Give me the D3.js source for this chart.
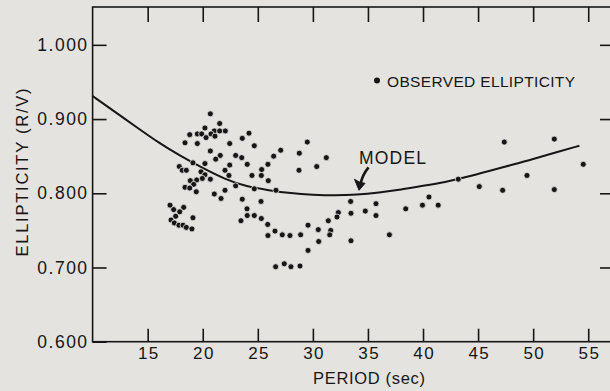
<!DOCTYPE html>
<html>
<head>
<meta charset="utf-8">
<script src="https://cdn.jsdelivr.net/npm/d3@7"></script>
<style>
  body { margin: 0; background: #e4e3df; }
  svg { display: block; }
  text { font-family: "Liberation Sans", Arial, sans-serif; fill: #161616; }
</style>
</head>
<body>
<div id="chart"></div>
<script>
// ellipticity vs period
var obsPeriod = [20.69, 21.54, 20.20, 21.05, 21.54, 22.05, 18.82, 19.51, 19.90, 20.75,
  20.30, 21.11, 18.39, 19.51, 22.45, 24.20, 23.59, 24.68, 20.69, 21.59,
  21.18, 22.99, 23.54, 27.08, 26.44, 28.77, 19.11, 20.20, 22.45, 24.04,
  25.92, 17.87, 18.14, 18.51, 19.84, 22.02, 25.35, 28.74, 22.38, 24.47,
  25.32, 20.20, 19.96, 19.45, 20.69, 18.87, 19.18, 25.95, 18.39, 18.82,
  19.41, 22.99, 24.68, 26.65, 21.05, 22.02, 21.66, 23.59, 25.29, 17.03,
  17.36, 18.27, 17.91, 24.02, 17.54, 19.11, 17.12, 17.42, 17.84, 18.21,
  18.51, 19.02, 24.04, 24.68, 25.32, 23.47, 25.90, 25.92, 26.56, 27.22,
  27.92, 28.89, 26.62, 27.40, 28.01, 28.83, 29.49, 31.22, 30.35, 33.43,
  35.73, 32.31, 32.19, 33.46, 34.76, 35.73, 31.40, 29.56, 30.49, 31.62,
  31.53, 30.53, 33.46, 36.95, 29.56, 38.43, 39.95, 40.54, 41.38, 43.20,
  45.11, 47.38, 47.23, 49.44, 51.92, 51.92, 54.55];
var obsEllipticity = [0.907, 0.894, 0.888, 0.884, 0.884, 0.884, 0.879, 0.880, 0.880, 0.880,
  0.875, 0.877, 0.868, 0.867, 0.867, 0.881, 0.874, 0.864, 0.857, 0.851,
  0.846, 0.851, 0.848, 0.858, 0.850, 0.854, 0.841, 0.840, 0.838, 0.839,
  0.839, 0.836, 0.831, 0.831, 0.829, 0.831, 0.832, 0.831, 0.824, 0.824,
  0.824, 0.825, 0.820, 0.818, 0.819, 0.817, 0.812, 0.817, 0.808, 0.807,
  0.802, 0.810, 0.806, 0.804, 0.799, 0.804, 0.793, 0.792, 0.789, 0.784,
  0.778, 0.781, 0.775, 0.779, 0.769, 0.767, 0.764, 0.760, 0.757, 0.757,
  0.754, 0.752, 0.770, 0.770, 0.766, 0.763, 0.758, 0.743, 0.749, 0.744,
  0.743, 0.744, 0.701, 0.705, 0.701, 0.702, 0.869, 0.848, 0.836, 0.789,
  0.786, 0.774, 0.768, 0.773, 0.776, 0.770, 0.763, 0.757, 0.751, 0.750,
  0.744, 0.735, 0.736, 0.744, 0.723, 0.779, 0.784, 0.795, 0.784, 0.819,
  0.809, 0.869, 0.804, 0.824, 0.873, 0.805, 0.839];

// model curve
var modelPeriod = [10, 12, 14, 16, 18, 20, 22, 24, 26, 28, 30, 32, 34, 36, 38, 40, 42, 44, 46, 48, 50, 52, 54.2];
var modelEllipticity = [0.931, 0.910, 0.889, 0.868, 0.850, 0.834, 0.819, 0.809, 0.804, 0.800, 0.798, 0.797,
  0.798, 0.801, 0.805, 0.810, 0.815, 0.822, 0.830, 0.838, 0.846, 0.855, 0.864];

var xTicks = [15, 20, 25, 30, 35, 40, 45, 50, 55];
var yTicks = [0.6, 0.7, 0.8, 0.9, 1.0];

var width = 610, height = 391;
// note: "top" is taken by window.top, so plot edges get their own names
var plotLeft = 92.6, plotTop = 7, plotRight = 613, plotBottom = 341.7;
var ink = "#161616", paper = "#e4e3df";

var svg = d3.select("#chart").append("svg")
  .attr("width", width)
  .attr("height", height);

var x = d3.scaleLinear().domain([10, 57.25]).range([plotLeft, plotRight]);
var y = d3.scaleLinear().domain([0.6, 1.051]).range([plotBottom, plotTop]);

// frame
svg.append("rect")
  .attr("x", plotLeft).attr("y", plotTop)
  .attr("width", plotRight - plotLeft).attr("height", plotBottom - plotTop)
  .attr("fill", "none")
  .attr("stroke", ink)
  .attr("stroke-width", 1.6);

function styleAxis(g) {
  g.select(".domain").remove();
  g.selectAll(".tick line").attr("stroke", ink).attr("stroke-width", 1.6);
  g.selectAll(".tick text").attr("fill", ink).style("font-family", "Liberation Sans, Arial, sans-serif");
}

// bottom axis, ticks pointing up
svg.append("g")
  .attr("transform", "translate(0," + plotBottom + ")")
  .call(d3.axisBottom(x).tickValues(xTicks).tickSize(-13).tickPadding(5))
  .call(styleAxis)
  .selectAll("text").style("font-size", "17px").attr("dx", "0.7px").attr("letter-spacing", "1.4px");

// top axis, ticks hanging down
svg.append("g")
  .attr("transform", "translate(0," + plotTop + ")")
  .call(d3.axisTop(x).tickValues(xTicks).tickSize(-15).tickFormat(""))
  .call(styleAxis);

// left axis
svg.append("g")
  .attr("transform", "translate(" + plotLeft + ",0)")
  .call(d3.axisLeft(y).tickValues(yTicks).tickSize(-14).tickPadding(4).tickFormat(d3.format(".3f")))
  .call(styleAxis)
  .selectAll("text").style("font-size", "17.5px").attr("letter-spacing", "1.5px");

// right axis, no labels
svg.append("g")
  .attr("transform", "translate(" + plotRight + ",0)")
  .call(d3.axisRight(y).tickValues(yTicks.slice(1)).tickSize(-13).tickFormat(""))
  .call(styleAxis);

// axis titles
svg.append("text")
  .attr("x", (313 + 425) / 2)
  .attr("y", 384)
  .attr("text-anchor", "middle")
  .style("font-size", "16.5px")
  .attr("textLength", 112)
  .attr("lengthAdjust", "spacing")
  .text("PERIOD (sec)");

svg.append("text")
  .attr("transform", "translate(27.5,172.5) rotate(-90)")
  .attr("text-anchor", "middle")
  .style("font-size", "16.5px")
  .attr("textLength", 168)
  .attr("lengthAdjust", "spacing")
  .text("ELLIPTICITY (R/V)");

// model line
var model = modelPeriod.map(function(d, i) { return [d, modelEllipticity[i]]; });
svg.append("path")
  .datum(model)
  .attr("fill", "none")
  .attr("stroke", ink)
  .attr("stroke-width", 2)
  .attr("d", d3.line()
    .x(function(d) { return x(d[0]); })
    .y(function(d) { return y(d[1]); })
    .curve(d3.curveBasis));

// observed points
svg.append("g").selectAll("circle")
  .data(obsPeriod)
  .enter().append("circle")
  .attr("cx", function(d) { return x(d); })
  .attr("cy", function(d, i) { return y(obsEllipticity[i]); })
  .attr("r", 3)
  .attr("fill", ink)
  .attr("stroke", paper)
  .attr("stroke-width", 0.8);

// legend
svg.append("circle")
  .attr("cx", 377).attr("cy", 80.5).attr("r", 3)
  .attr("fill", ink);
svg.append("text")
  .attr("x", 387).attr("y", 87)
  .style("font-size", "15.5px")
  .attr("textLength", 188)
  .attr("lengthAdjust", "spacing")
  .text("OBSERVED ELLIPTICITY");

// MODEL label and arrow
svg.append("text")
  .attr("x", 359).attr("y", 164)
  .style("font-size", "17.5px")
  .attr("textLength", 67)
  .attr("lengthAdjust", "spacing")
  .text("MODEL");

var tipX = x(34.19), tipY = y(0.804);
svg.append("path")
  .attr("d", "M" + (tipX + 9.5) + "," + (tipY - 23) +
    " Q" + (tipX + 3) + "," + (tipY - 15) + " " + (tipX + 1.5) + "," + (tipY - 6))
  .attr("fill", "none")
  .attr("stroke", ink)
  .attr("stroke-width", 2.6);
svg.append("path")
  .attr("d", "M" + tipX + "," + tipY +
    " L" + (tipX - 4.5) + "," + (tipY - 11) +
    " Q" + (tipX + 1) + "," + (tipY - 7) + " " + (tipX + 6) + "," + (tipY - 7) + " Z")
  .attr("fill", ink)
  .attr("stroke", ink)
  .attr("stroke-width", 1);
</script>
</body>
</html>
